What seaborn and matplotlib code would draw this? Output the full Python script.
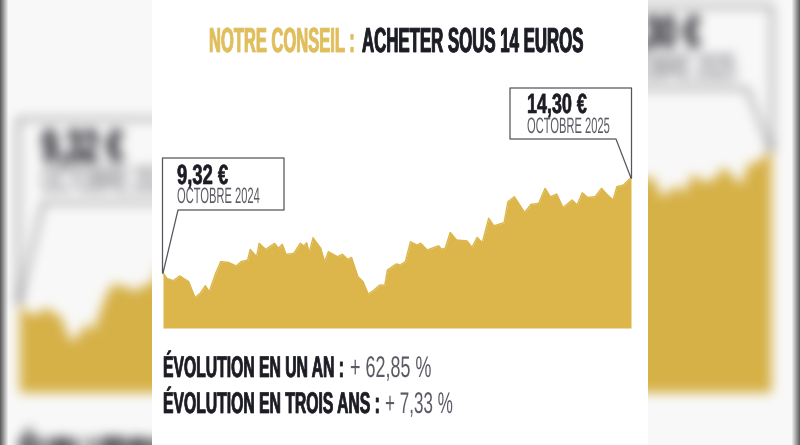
import numpy as np
import pandas as pd
import matplotlib
matplotlib.use("Agg")
import matplotlib.pyplot as plt
import matplotlib.patheffects as pe
from matplotlib.patches import Rectangle
from matplotlib.transforms import Affine2D
import seaborn as sns

# ---- data ----
jours = [0, 3, 8, 13, 20, 25, 29, 33, 36, 41, 45, 51, 57, 61, 66, 68, 73, 75, 80, 87, 90, 93, 96,
         102, 107, 110, 112, 114, 117, 123, 126, 129, 136, 140, 144, 147, 152, 156, 160, 164, 169,
         173, 175, 182, 185, 189, 193, 198, 201, 206, 215, 217, 220, 224, 229, 237, 241, 245, 249,
         254, 258, 266, 269, 274, 282, 287, 293, 298, 302, 307, 312, 319, 323, 327, 331, 337, 342,
         346, 351, 354, 359, 365]
cours = [9.32, 9.02, 8.90, 9.15, 8.85, 8.01, 8.24, 8.64, 8.32, 9.28, 9.90, 9.86, 9.67, 9.90, 9.98,
         10.54, 10.16, 10.86, 10.54, 10.86, 10.60, 10.81, 10.28, 10.33, 10.86, 10.72, 10.89, 10.37,
         11.15, 10.60, 9.90, 10.42, 10.16, 10.28, 10.02, 10.12, 9.11, 8.85, 8.20, 8.38, 8.67, 8.67,
         9.46, 9.78, 9.72, 9.90, 10.94, 10.77, 10.86, 10.51, 10.73, 10.56, 10.59, 11.43, 11.03,
         10.99, 10.65, 11.17, 10.89, 12.17, 11.78, 11.94, 13.04, 13.30, 12.48, 12.90, 12.95, 13.74,
         13.30, 13.44, 12.73, 13.13, 12.87, 13.51, 13.27, 13.30, 13.74, 13.44, 13.13, 13.83, 13.91,
         14.30]
titre_or = "NOTRE CONSEIL :"
titre_noir = "ACHETER SOUS 14 EUROS"
prix_debut, date_debut = "9,32 €", "OCTOBRE 2024"
prix_fin, date_fin = "14,30 €", "OCTOBRE 2025"
lignes = [("ÉVOLUTION EN UN AN :", "+ 62,85 %"), ("ÉVOLUTION EN TROIS ANS :", "+ 7,33 %")]

df = pd.DataFrame({"jour": jours, "cours": cours})
OR = "#dcb64a"
OR_TITRE = "#e0be5c"
NOIR = "#1c1c24"
GRIS = "#5a5b64"
W, H = 800, 445
sns.set_theme(style="white")
plt.rcParams["font.family"] = ["Liberation Sans", "DejaVu Sans"]


class Condense(pe.AbstractPathEffect):
    """Scale a text around its left end and baseline (tall, narrow letters), optionally thickening it."""
    def __init__(self, sx, sy, x0, y0, stroke=0.0):
        super().__init__()
        self.sx, self.sy, self.x0, self.y0, self.stroke = sx, sy, x0, y0, stroke

    def draw_path(self, renderer, gc, tpath, affine, rgbFace=None):
        t = affine + (Affine2D().translate(-self.x0, -self.y0)
                      .scale(self.sx, self.sy).translate(self.x0, self.y0))
        gc2 = renderer.new_gc()
        gc2.copy_properties(gc)
        if self.stroke > 0:
            gc2.set_linewidth(self.stroke)
            gc2.set_foreground(rgbFace)
        else:
            gc2.set_linewidth(0)
        renderer.draw_path(gc2, tpath, t, rgbFace)
        gc2.restore()


def scene(fig, scale=1.0):
    """Panel content; `scale` zooms it around the image centre (used for the backdrop)."""
    def X(x): return 400 + (x - 400) * scale
    def Y(y): return 222 + (y - 222) * scale

    ax = fig.add_axes([X(163) / W, 1 - Y(328) / H, (X(631) - X(163)) / W, (Y(328) - Y(100)) / H])
    ax.patch.set_alpha(0)
    sns.lineplot(data=df, x="jour", y="cours", color=OR, lw=1.0 * scale, ax=ax, clip_on=True)
    ax.fill_between(df["jour"], 6.42, df["cours"], color=OR, lw=0)
    ax.set_xlim(0, 365)
    ax.set_ylim(6.42, 18.37)
    ax.axis("off")

    ov = fig.add_axes([0, 0, 1, 1])
    ov.patch.set_alpha(0)
    ov.set_xlim(0, W)
    ov.set_ylim(H, 0)
    ov.axis("off")
    rend = fig.canvas.get_renderer()

    def txt(x0, x1, y, s, size, color, weight="normal", stroke=0.0):
        t = ov.text(X(x0), Y(y), s, fontsize=size * scale, color=color, weight=weight,
                    va="baseline", ha="left", clip_on=False)
        target = X(x1) - X(x0)
        # real font size chosen so the text's own width is the wanted width;
        # the letters are then stretched upward from the baseline to the wanted height
        ratio = target / t.get_window_extent(rend).width
        t.set_fontsize(size * scale * ratio)
        bb = t.get_window_extent(rend)
        base = ov.transData.transform((X(x0), Y(y)))[1]
        t.set_path_effects([Condense(target / bb.width, 1 / ratio, bb.x0, base, stroke * scale)])

    txt(209, 355, 52, titre_or, 25, OR_TITRE, "bold", 0.6)
    txt(362, 584, 52, titre_noir, 25, NOIR, "bold", 0.6)

    # call-outs
    for xs, ys in [([163, 178, 284, 284, 162.5, 162.5], [273, 210, 210, 158, 158, 273]),
                   ([631, 616, 510, 510, 631.5, 631.5], [178, 139, 139, 88, 88, 178])]:
        ov.plot([X(v) for v in xs], [Y(v) for v in ys], color="#55555c", lw=0.9 * scale)
    txt(177, 228, 184, prix_debut, 20, NOIR, "bold", 0.4)
    txt(177, 259, 203, date_debut, 16, GRIS)
    txt(527, 587, 113, prix_fin, 20, NOIR, "bold", 0.4)
    txt(527, 609, 133, date_fin, 16, GRIS)

    txt(163, 343, 377, lignes[0][0], 21.5, NOIR, "bold", 0.5)
    txt(350, 431, 377, lignes[0][1], 21.5, GRIS)
    txt(163, 378, 413, lignes[1][0], 21.5, NOIR, "bold", 0.5)
    txt(385, 453, 413, lignes[1][1], 21.5, GRIS)


def blur(a, r, passes=3):
    k = np.ones(2 * r + 1) / (2 * r + 1)
    for _ in range(passes):
        for axis in (0, 1):
            a = np.apply_along_axis(lambda m: np.convolve(np.pad(m, r, mode="edge"), k, "valid"), axis, a)
    return a


# blurred backdrop: the same panel enlarged
bgfig = plt.figure(figsize=(W / 100, H / 100), dpi=100, facecolor="white")
bgfig.canvas.draw()
scene(bgfig, scale=1.607)
bgfig.canvas.draw()
bg = np.asarray(bgfig.canvas.buffer_rgba())[..., :3].astype(float) / 255
plt.close(bgfig)
bg = blur(bg, 5)
# dark bands along the left and right edges
xx = np.arange(W, dtype=float)
d = np.minimum(xx, W - 1 - xx)
vig = 1 - 0.6 * np.clip(1 - d / 8, 0, 1)
bg = bg * 0.975 * vig[None, :, None]

fig = plt.figure(figsize=(W / 100, H / 100), dpi=100, facecolor="white")
back = fig.add_axes([0, 0, 1, 1])
back.imshow(bg, aspect="auto", extent=(0, W, H, 0))
back.add_patch(Rectangle((152, 0), 496, H, color="white", lw=0))
back.set_xlim(0, W)
back.set_ylim(H, 0)
back.axis("off")
fig.canvas.draw()
scene(fig)
fig.savefig("out.png", dpi=100)
